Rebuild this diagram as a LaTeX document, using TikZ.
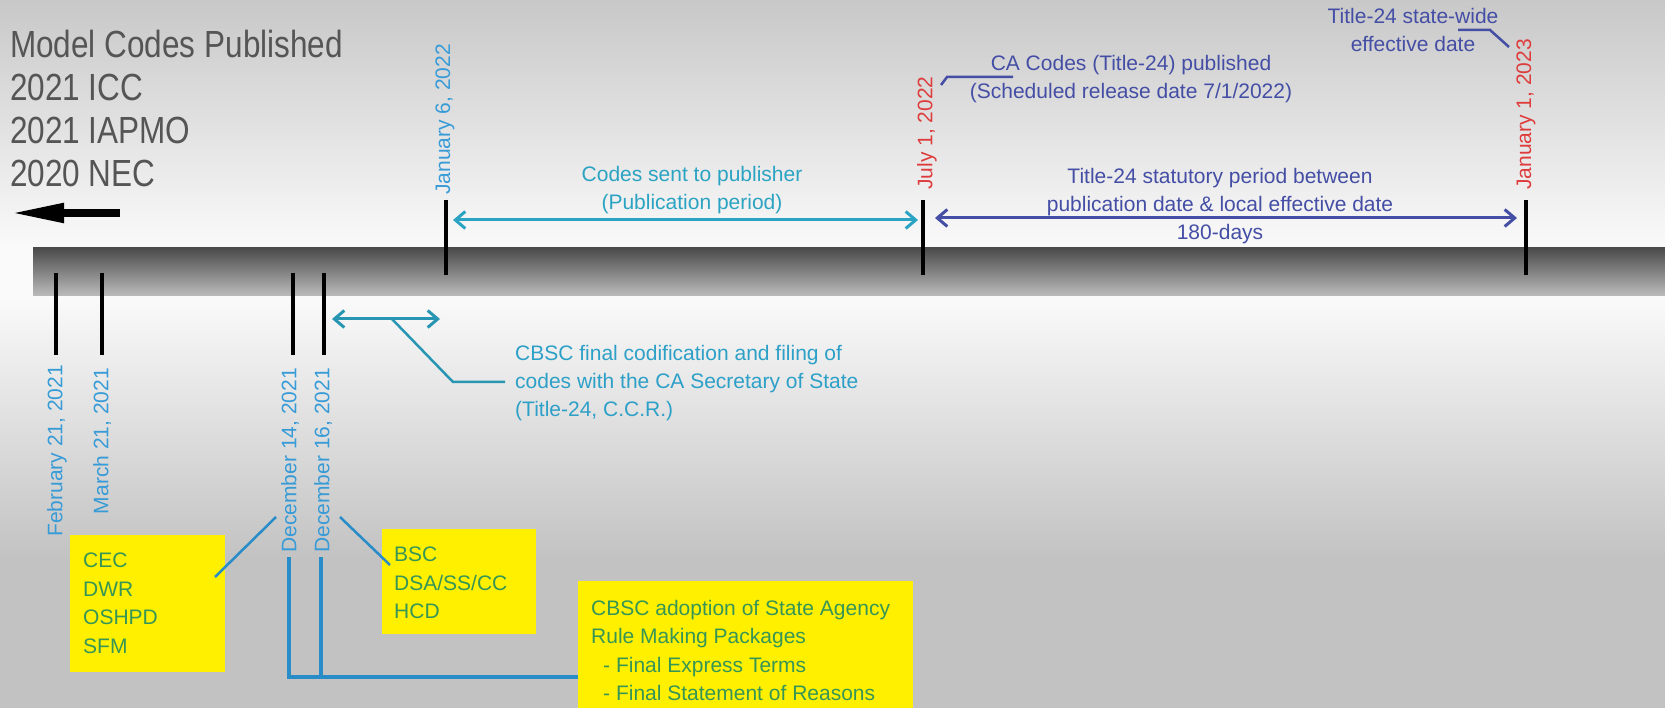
\documentclass[tikz,border=0pt]{standalone}
\usepackage{fontspec}
\setmainfont{Liberation Sans}
\usepackage{graphicx}
\usetikzlibrary{arrows.meta,calc}
\definecolor{bgtop}{RGB}{200,200,200}
\definecolor{bgwhite}{RGB}{250,250,250}
\definecolor{bglow}{RGB}{194,194,194}
\definecolor{bardark}{RGB}{75,75,75}
\definecolor{barlight}{RGB}{190,190,190}
\definecolor{headgray}{RGB}{85,85,85}
\definecolor{datecyan}{RGB}{55,155,215}
\definecolor{pubcyan}{RGB}{43,163,195}
\definecolor{cbsccyan}{RGB}{45,160,200}
\definecolor{cbscline}{RGB}{40,150,178}
\definecolor{boxline}{RGB}{40,140,200}
\definecolor{tblue}{RGB}{68,78,165}
\definecolor{dred}{RGB}{222,60,60}
\definecolor{boxgreen}{RGB}{55,150,85}
\definecolor{boxyellow}{RGB}{255,240,0}

\begin{document}
\begin{tikzpicture}[x=1pt,y=-1pt,
  >={Straight Barb[length=10pt,width=17pt]},
  txt/.style={inner sep=0pt,font=\fontsize{21}{28}\selectfont},
  datelbl/.style={inner sep=0pt,rotate=90,font=\fontsize{21}{25}\selectfont},
  tick/.style={line width=\tickw,black},
  leader/.style={line width=2.5pt},
  ybox/.style={fill=boxyellow,inner sep=0pt,anchor=north west},
  boxtxt/.style={txt,text=boxgreen,align=left,anchor=north west,font=\fontsize{21}{28.5}\selectfont}]
\def\tickw{4pt}

\useasboundingbox (0,0) rectangle (1665,708);

% background and time bar
\shade[top color=bgtop,bottom color=bgwhite] (0,0) rectangle (1665,248);
\fill[bgwhite] (0,248) rectangle (33,297);
\shade[top color=bardark,bottom color=barlight] (33,248) rectangle (1665,297);
\shade[top color=bgwhite,bottom color=bglow] (0,297) rectangle (1665,560);
\fill[bglow] (0,560) rectangle (1665,708);

\node[anchor=north west,inner sep=0pt,align=left,text=headgray,font=\fontsize{31.5}{43}\selectfont] (models) at (10,29.5)
  {\scalebox{1}[1.2]{Model Codes Published}\\\scalebox{1}[1.2]{2021 ICC}\\\scalebox{1}[1.2]{2021 IAPMO}\\\scalebox{1}[1.2]{2020 NEC}};

\coordinate (mcR) at (120,213);
\coordinate (mcL) at (10,213);
\draw[line width=8pt,-{Triangle[length=54pt,width=18pt]}] (mcR) -- (mcL);

% ticks above and below the bar
\foreach \n/\x in {jan/446,jul/923,eff/1526}{
  \coordinate (\n-t) at (\x,200);
  \coordinate (\n-b) at (\x,275);
  \draw[tick] (\n-t) -- (\n-b);
}
\foreach \n/\x in {feb/56,mar/102,decA/293,decB/324}{
  \coordinate (\n-t) at (\x,273);
  \coordinate (\n-b) at (\x,355);
  \draw[tick] (\n-t) -- (\n-b);
}

\node[datelbl,text=datecyan,anchor=west] (janlbl) at (445,195) {January 6, 2022};
\node[datelbl,text=dred,anchor=west] (jullbl) at (927,190) {July 1, 2022};
\node[datelbl,text=dred,anchor=west] (efflbl) at (1526,190) {January 1, 2023};
\node[datelbl,text=datecyan,anchor=east] (feblbl) at (57,365) {February 21, 2021};
\node[datelbl,text=datecyan,anchor=east] (marlbl) at (102,368) {March 21, 2021};
\node[datelbl,text=datecyan,anchor=east] (decAlbl) at (290,368) {December 14, 2021};
\node[datelbl,text=datecyan,anchor=east] (decBlbl) at (323,368) {December 16, 2021};

% publication period
\coordinate (pubL) at (453,220);
\coordinate (pubR) at (918,220);
\draw[pubcyan,line width=3pt,<->] (pubL) -- (pubR);
\node[txt,text=pubcyan,align=center,anchor=north] (pubtxt) at (692,165.7)
  {Codes sent to publisher\\(Publication period)};

% statutory period
\coordinate (statL) at (935,218);
\coordinate (statR) at (1517,218);
\draw[tblue,line width=3pt,<->] (statL) -- (statR);
\node[txt,text=tblue,align=center,anchor=north] (stattxt) at (1220,168)
  {Title-24 statutory period between\\publication date \& local effective date\\180-days};

\node[txt,text=tblue,align=center,anchor=north] (catxt) at (1131,54.7)
  {CA Codes (Title-24) published\\(Scheduled release date 7/1/2022)};
\coordinate (caA) at (941,85);
\coordinate (caB) at (947,77);
\coordinate (caC) at (1013,77);
\draw[tblue,leader] (caA) -- (caB) -- (caC);

\node[txt,text=tblue,align=center,anchor=north] (efftxt) at (1413,8)
  {Title-24 state-wide\\effective date};
\coordinate (efA) at (1458,30);
\coordinate (efB) at (1490,30);
\coordinate (efC) at (1509,47);
\draw[tblue,leader] (efA) -- (efB) -- (efC);

% codification and filing
\coordinate (fileL) at (332,319);
\coordinate (fileR) at (440,319);
\draw[cbscline,line width=3pt,<->] (fileL) -- (fileR);
\coordinate (fileA) at (392,319);
\coordinate (fileB) at (453,382);
\coordinate (fileC) at (505,382);
\draw[cbscline,leader] (fileA) -- (fileB) -- (fileC);
\node[txt,text=cbsccyan,align=left,anchor=north west] (filetxt) at (515,345)
  {CBSC final codification and filing of\\codes with the CA Secretary of State\\(Title-24, C.C.R.)};

% rule making packages
\coordinate (brA) at (289,557);
\coordinate (brB) at (321,557);
\coordinate (brC) at (289,677);

\node[ybox,minimum width=155pt,minimum height=137pt] (boxA) at (70,535) {};
\node[boxtxt] (boxAtxt) at (83,552.7) {CEC\\DWR\\OSHPD\\SFM};
\node[ybox,minimum width=154pt,minimum height=105pt] (boxB) at (382,529) {};
\node[boxtxt] (boxBtxt) at (394,546.7) {BSC\\DSA/SS/CC\\HCD};
\node[ybox,minimum width=335pt,minimum height=140pt] (boxC) at (578,581) {};
\node[boxtxt] (boxCtxt) at (591,599.6)
  {CBSC adoption of State Agency\\Rule Making Packages\\\hspace*{12pt}- Final Express Terms\\\hspace*{12pt}- Final Statement of Reasons};

\draw[boxline,line width=3.5pt] (brA) -- (brC) -- (boxC.west |- brC);
\draw[boxline,line width=3.5pt] (brB) -- (brB |- brC);

\coordinate (decAa) at (276,517);
\coordinate (boxAa) at (215,577);
\draw[boxline,leader] (decAa) -- (boxAa);
\coordinate (decBa) at (340,517);
\coordinate (boxBa) at (390,565);
\draw[boxline,leader] (decBa) -- (boxBa);

\end{tikzpicture}
\end{document}
